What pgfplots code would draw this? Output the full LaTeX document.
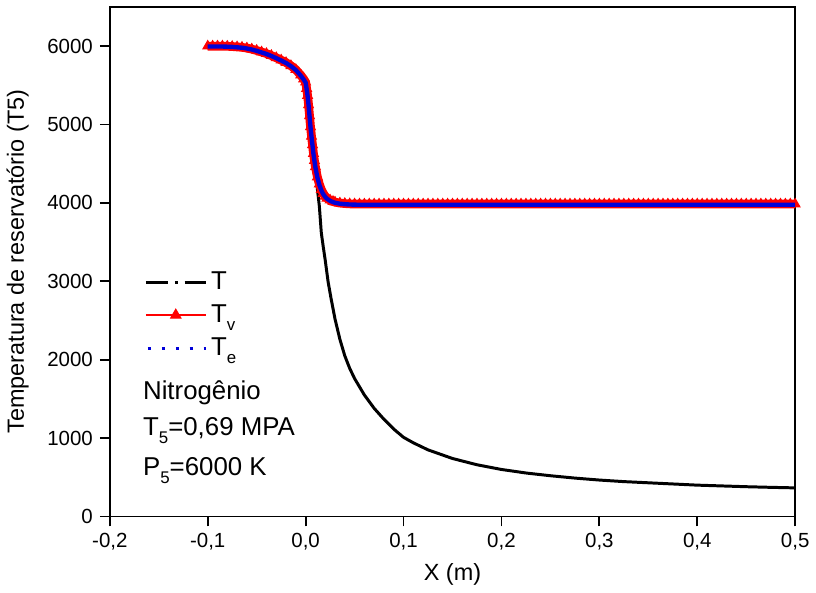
\documentclass[border=0pt]{standalone}
\usepackage{fontspec}
\setmainfont{Liberation Sans}
\usepackage{pgfplots}
\pgfplotsset{compat=1.18}
\usepackage{pgfplotstable}

\newcommand{\sub}[1]{\raisebox{-0.55ex}{\fontsize{8.5}{9}\selectfont #1}}

% Tv and Te
\pgfplotstableread{
x tv te
-0.100 6000 5995
-0.095 6000 5995
-0.090 6000 5995
-0.085 6000 5995
-0.080 5998 5993
-0.075 5995 5990
-0.070 5990 5985
-0.065 5985 5980
-0.060 5975 5970
-0.055 5962 5957
-0.050 5945 5940
-0.045 5925 5920
-0.040 5905 5900
-0.035 5880 5875
-0.030 5852 5847
-0.025 5822 5817
-0.020 5790 5785
-0.015 5750 5745
-0.010 5700 5695
-0.005 5630 5625
-0.002 5580 5575
0.000 5540 5535
0.001 5460 5455
0.002 5370 5365
0.003 5250 5245
0.004 5110 5105
0.005 4970 4965
0.006 4850 4845
0.007 4740 4735
0.008 4630 4625
0.009 4540 4535
0.010 4460 4455
0.012 4330 4325
0.014 4240 4232
0.016 4170 4162
0.018 4120 4112
0.020 4085 4077
0.022 4060 4052
0.025 4035 4027
0.028 4018 4010
0.030 4010 4002
0.035 3998 3990
0.040 3992 3984
0.045 3988 3980
0.050 3986 3978
0.055 3985 3977
0.060 3985 3977
0.065 3985 3977
0.070 3985 3977
0.075 3985 3977
0.080 3985 3977
0.085 3985 3977
0.090 3985 3977
0.095 3985 3977
0.100 3985 3977
0.105 3985 3977
0.110 3985 3977
0.115 3985 3977
0.120 3985 3977
0.125 3985 3977
0.130 3985 3977
0.135 3985 3977
0.140 3985 3977
0.145 3985 3977
0.150 3985 3977
0.155 3985 3977
0.160 3985 3977
0.165 3985 3977
0.170 3985 3977
0.175 3985 3977
0.180 3985 3977
0.185 3985 3977
0.190 3985 3977
0.195 3985 3977
0.200 3985 3977
0.205 3985 3977
0.210 3985 3977
0.215 3985 3977
0.220 3985 3977
0.225 3985 3977
0.230 3985 3977
0.235 3985 3977
0.240 3985 3977
0.245 3985 3977
0.250 3985 3977
0.255 3985 3977
0.260 3985 3977
0.265 3985 3977
0.270 3985 3977
0.275 3985 3977
0.280 3985 3977
0.285 3985 3977
0.290 3985 3977
0.295 3985 3977
0.300 3985 3977
0.305 3985 3977
0.310 3985 3977
0.315 3985 3977
0.320 3985 3977
0.325 3985 3977
0.330 3985 3977
0.335 3985 3977
0.340 3985 3977
0.345 3985 3977
0.350 3985 3977
0.355 3985 3977
0.360 3985 3977
0.365 3985 3977
0.370 3985 3977
0.375 3985 3977
0.380 3985 3977
0.385 3985 3977
0.390 3985 3977
0.395 3985 3977
0.400 3985 3977
0.405 3985 3977
0.410 3985 3977
0.415 3985 3977
0.420 3985 3977
0.425 3985 3977
0.430 3985 3977
0.435 3985 3977
0.440 3985 3977
0.445 3985 3977
0.450 3985 3977
0.455 3985 3977
0.460 3985 3977
0.465 3985 3977
0.470 3985 3977
0.475 3985 3977
0.480 3985 3977
0.485 3985 3977
0.490 3985 3977
0.495 3985 3977
0.500 3985 3977
}\tvte

% T
\pgfplotstableread{
x t
-0.100 6000
-0.080 5998
-0.060 5975
-0.040 5905
-0.020 5790
-0.010 5700
0.000 5540
0.003 5250
0.005 4970
0.008 4650
0.010 4400
0.012 4180
0.014 3960
0.016 3620
0.018 3440
0.020 3270
0.023 2990
0.026 2780
0.030 2520
0.035 2260
0.040 2050
0.045 1890
0.050 1760
0.060 1550
0.070 1380
0.080 1240
0.090 1115
0.100 1010
0.110 940
0.125 850
0.150 740
0.175 660
0.200 600
0.225 555
0.250 520
0.275 490
0.300 465
0.325 445
0.350 430
0.375 415
0.400 400
0.425 390
0.450 380
0.475 372
0.500 365
}\tblack

\begin{document}
\begin{tikzpicture}
\begin{axis}[
    scale only axis,
    width=345pt, height=256.5pt,
    clip mode=individual,
    xmin=-0.2, xmax=0.5,
    ymin=0, ymax=6500,
    xtick={-0.2,-0.1,0,0.1,0.2,0.3,0.4,0.5},
    ytick={0,1000,2000,3000,4000,5000,6000},
    xtick pos=bottom, ytick pos=left,
    tick align=outside,
    major tick length=5pt,
    axis line style={line width=0.9pt},
    tick style={line width=0.9pt, black},
    /pgf/number format/assume math mode=true,
    xticklabel style={/pgf/number format/.cd, fixed, fixed zerofill, precision=1, use comma},
    yticklabel style={/pgf/number format/.cd, 1000 sep={}},
    tick label style={font=\fontsize{10.3}{12}\selectfont},
    label style={font=\fontsize{11.8}{14}\selectfont},
    ylabel style={yshift=2.5pt},
    xlabel={X (m)},
    ylabel={Temperatura de reservatório (T5)},
    legend style={at={(rel axis cs:0.05,0.489)}, anchor=north west,
        draw=none, fill=none, font=\fontsize{13}{15}\selectfont,
        row sep=2.2pt, inner sep=0pt},
    legend cell align=left,
]
\addplot[black, line width=1.5pt,
    legend image code/.code={\draw[black, line width=1.5pt,
        dash pattern=on 11pt off 3.5pt on 1.5pt off 3.5pt] (0pt,0pt) -- (30pt,0pt);}]
    table[x=x, y=t] {\tblack};
\addlegendentry{T}
\addplot[red, line width=4.4pt, mark=triangle*, mark size=2.8pt,
    mark options={fill=red, draw=red, line width=0.5pt},
    legend image code/.code={\draw[red, line width=0.8pt] (0pt,0pt) -- (30pt,0pt);
        \draw[red, fill=red, line width=0.5pt] plot[mark=triangle*, mark size=3pt] coordinates {(15pt,0pt)};}]
    table[x=x, y=tv] {\tvte};
\addlegendentry{T\sub{v}}
\addplot[blue!85!black, line width=2.2pt,
    legend image code/.code={\draw[blue!85!black, line width=1.6pt,
        dash pattern=on 1.5pt off 5.5pt] (1pt,0pt) -- (30pt,0pt);}]
    table[x=x, y=te] {\tvte};
\addlegendentry{T\sub{e}}
\node[anchor=base west, inner sep=0pt, font=\fontsize{13}{15}\selectfont] at (rel axis cs:0.048,0.230) {Nitrogênio};
\node[anchor=base west, inner sep=0pt, font=\fontsize{13}{15}\selectfont] at (rel axis cs:0.048,0.158) {T\sub{5}=0,69 MPA};
\node[anchor=base west, inner sep=0pt, font=\fontsize{13}{15}\selectfont] at (rel axis cs:0.048,0.080) {P\sub{5}=6000 K};
\end{axis}
\path ([yshift=3.5pt]current axis.north);
\end{tikzpicture}
\end{document}
